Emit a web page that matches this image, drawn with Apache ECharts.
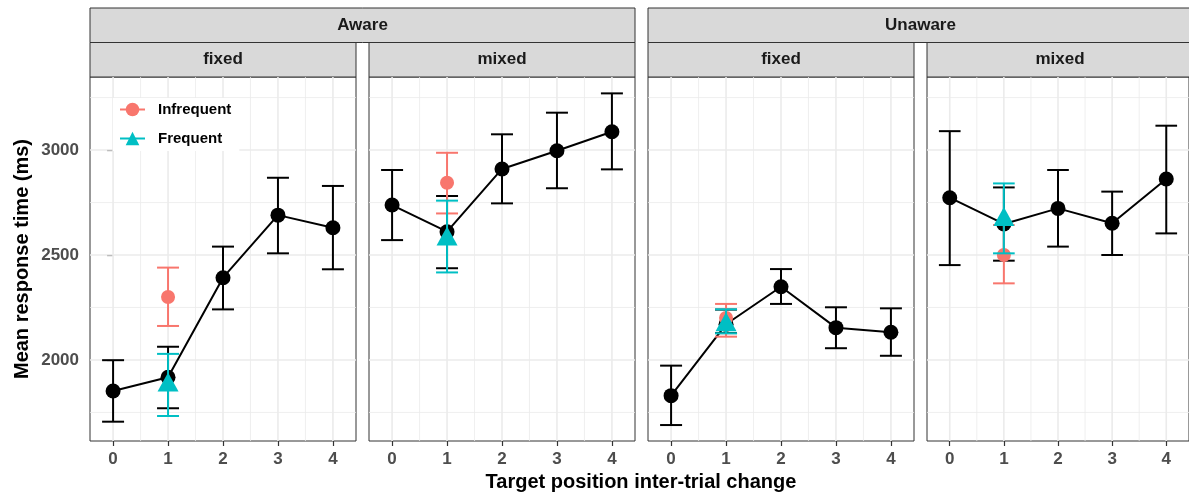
<!DOCTYPE html>
<html>
<head>
<meta charset="utf-8">
<script src="https://cdn.jsdelivr.net/npm/echarts@6/dist/echarts.min.js"></script>
<style>
  html, body { margin: 0; padding: 0; background: #fff; }
  #main { width: 1189px; height: 493px; }
</style>
</head>
<body>
<div id="main"></div>
<script>
// x positions (target position inter-trial change)
const xTicks = [0, 1, 2, 3, 4];
const xMinor = [0.5, 1.5, 2.5, 3.5];
const yTicks = [2000, 2500, 3000];
const yMinor = [1750, 2250, 2750, 3250];

// facets: Aware fixed, Aware mixed, Unaware fixed, Unaware mixed
const groupLabels = ["Aware", "Unaware"];
const condLabels = ["fixed", "mixed", "fixed", "mixed"];

// overall means with error bars (black)
const meanAll = [
  [1852, 1918, 2392, 2690, 2630],
  [2738, 2611, 2910, 2997, 3087],
  [1830, 2170, 2349, 2154, 2132],
  [2773, 2648, 2722, 2651, 2862]
];
const lowAll = [
  [1706, 1770, 2241, 2508, 2432],
  [2571, 2437, 2746, 2818, 2908],
  [1690, 2128, 2267, 2056, 2020],
  [2452, 2473, 2540, 2500, 2603]
];
const highAll = [
  [1999, 2063, 2540, 2868, 2829],
  [2905, 2781, 3075, 3178, 3270],
  [1973, 2240, 2433, 2251, 2246],
  [3090, 2822, 2905, 2802, 3116]
];

// change type at x = 1
const infreqX = 1;
const infreqMean = [2300, 2844, 2200, 2500];
const infreqLow = [2162, 2698, 2111, 2365];
const infreqHigh = [2440, 2987, 2267, 2643];
const freqMean = [1895, 2590, 2182, 2683];
const freqLow = [1733, 2417, 2127, 2508];
const freqHigh = [2029, 2759, 2241, 2841];

const RED = "#F8766D";
const TEAL = "#00BFC4";
const FONT = "'Liberation Sans', Arial, sans-serif";

// panel layout
const PLEFT = 90, PSTEP = 279, PW = 266;
const PTOP = 77, PH = 364;
const STRIP1 = 8, STRIP2 = 42.5;

const chart = echarts.init(document.getElementById("main"));

// error bar drawn through the axis scales
const errRender = (color) => (params, api) => {
  const x = api.value(0);
  const top = api.coord([x, api.value(2)]);
  const bot = api.coord([x, api.value(1)]);
  const half = api.size([0.4, 0])[0] / 2;
  const st = { stroke: color, lineWidth: 2 };
  return {
    type: "group",
    children: [
      { type: "line", shape: { x1: top[0], y1: top[1], x2: bot[0], y2: bot[1] }, style: st },
      { type: "line", shape: { x1: top[0] - half, y1: top[1], x2: top[0] + half, y2: top[1] }, style: st },
      { type: "line", shape: { x1: bot[0] - half, y1: bot[1], x2: bot[0] + half, y2: bot[1] }, style: st }
    ]
  };
};

const gridLineRender = (vertical, width) => (params, api) => {
  const cs = params.coordSys;
  if (vertical) {
    const p = api.coord([api.value(0), 2000]);
    return { type: "line", silent: true,
      shape: { x1: p[0], y1: cs.y, x2: p[0], y2: cs.y + cs.height },
      style: { stroke: "#EBEBEB", lineWidth: width } };
  }
  const p = api.coord([0, api.value(1)]);
  return { type: "line", silent: true,
    shape: { x1: cs.x, y1: p[1], x2: cs.x + cs.width, y2: p[1] },
    style: { stroke: "#EBEBEB", lineWidth: width } };
};

const grids = [], xAxes = [], yAxes = [], series = [], graphics = [];

for (let i = 0; i < 4; i++) {
  const left = PLEFT + i * PSTEP;
  grids.push({ left: left, top: PTOP, width: PW, height: PH, show: true,
    borderColor: "#333333", borderWidth: 1, backgroundColor: "#fff" });
  xAxes.push({
    type: "value", gridIndex: i, min: -0.42, max: 4.42,
    axisLine: { show: false },
    splitLine: { show: false },
    axisTick: { show: true, customValues: xTicks, length: 5, lineStyle: { color: "#333333", width: 1.2 } },
    axisLabel: { customValues: xTicks, color: "#4D4D4D", fontWeight: "bold", fontSize: 17, fontFamily: FONT, margin: 10 }
  });
  yAxes.push({
    type: "value", gridIndex: i, min: 1614, max: 3348,
    axisLine: { show: false },
    splitLine: { show: false },
    axisTick: { show: i === 0, customValues: yTicks, length: 6, lineStyle: { color: "#333333", width: 1.2 } },
    axisLabel: { show: i === 0, customValues: yTicks, formatter: (v) => String(v),
      color: "#4D4D4D", fontWeight: "bold", fontSize: 17, fontFamily: FONT, margin: 11 }
  });

  const ax = { xAxisIndex: i, yAxisIndex: i };
  series.push(Object.assign({ type: "custom", silent: true, z: 1, renderItem: gridLineRender(true, 0.8),
    data: xMinor.map(v => [v, 2000]) }, ax));
  series.push(Object.assign({ type: "custom", silent: true, z: 1, renderItem: gridLineRender(false, 0.8),
    data: yMinor.map(v => [0, v]) }, ax));
  series.push(Object.assign({ type: "custom", silent: true, z: 1, renderItem: gridLineRender(true, 1.6),
    data: xTicks.map(v => [v, 2000]) }, ax));
  series.push(Object.assign({ type: "custom", silent: true, z: 1, renderItem: gridLineRender(false, 1.6),
    data: yTicks.map(v => [0, v]) }, ax));

  // overall
  series.push(Object.assign({ type: "custom", name: "allErr", z: 3, renderItem: errRender("#000"),
    encode: { x: 0, y: [1, 2] },
    data: xTicks.map((x, k) => [x, lowAll[i][k], highAll[i][k]]) }, ax));
  series.push(Object.assign({ type: "line", name: "All", z: 4,
    data: xTicks.map((x, k) => [x, meanAll[i][k]]),
    symbol: "circle", symbolSize: 15, itemStyle: { color: "#000" },
    lineStyle: { color: "#000", width: 2 } }, ax));

  // infrequent
  series.push(Object.assign({ type: "custom", name: "infErr", z: 5, renderItem: errRender(RED),
    encode: { x: 0, y: [1, 2] },
    data: [[infreqX, infreqLow[i], infreqHigh[i]]] }, ax));
  series.push(Object.assign({ type: "line", name: "Infrequent", z: 6,
    data: [[infreqX, infreqMean[i]]],
    symbol: "circle", symbolSize: 14, itemStyle: { color: RED },
    lineStyle: { color: RED, width: 2 } }, ax));

  // frequent
  series.push(Object.assign({ type: "custom", name: "frqErr", z: 7, renderItem: errRender(TEAL),
    encode: { x: 0, y: [1, 2] },
    data: [[infreqX, freqLow[i], freqHigh[i]]] }, ax));
  series.push(Object.assign({ type: "line", name: "Frequent", z: 8,
    data: [[infreqX, freqMean[i]]],
    symbol: "triangle", symbolSize: [21, 19], itemStyle: { color: TEAL },
    lineStyle: { color: TEAL, width: 2 } }, ax));

  // condition strip
  graphics.push({ type: "rect", shape: { x: left, y: STRIP2, width: PW, height: PTOP - STRIP2 },
    style: { fill: "#D9D9D9", stroke: "#333333", lineWidth: 1 } });
  graphics.push({ type: "text", x: left + PW / 2, y: (STRIP2 + PTOP) / 2,
    style: { text: condLabels[i], font: "bold 17px " + FONT, fill: "#1A1A1A",
      textAlign: "center", textVerticalAlign: "middle" } });
}

// awareness strips
for (let g = 0; g < 2; g++) {
  const left = PLEFT + g * 2 * PSTEP;
  const w = PSTEP + PW;
  graphics.push({ type: "rect", shape: { x: left, y: STRIP1, width: w, height: STRIP2 - STRIP1 },
    style: { fill: "#D9D9D9", stroke: "#333333", lineWidth: 1 } });
  graphics.push({ type: "text", x: left + w / 2, y: (STRIP1 + STRIP2) / 2,
    style: { text: groupLabels[g], font: "bold 17px " + FONT, fill: "#1A1A1A",
      textAlign: "center", textVerticalAlign: "middle" } });
}

// axis titles
graphics.push({ type: "text", x: 641, y: 482,
  style: { text: "Target position inter-trial change", font: "bold 20px " + FONT, fill: "#000",
    textAlign: "center", textVerticalAlign: "middle" } });
graphics.push({ type: "text", x: 22, y: 259, rotation: Math.PI / 2,
  style: { text: "Mean response time (ms)", font: "bold 20px " + FONT, fill: "#000",
    textAlign: "center", textVerticalAlign: "middle" } });

const option = {
  animation: false,
  backgroundColor: "#fff",
  grid: grids,
  xAxis: xAxes,
  yAxis: yAxes,
  legend: {
    data: ["Infrequent", "Frequent"],
    orient: "vertical",
    left: 113, top: 98,
    padding: [4, 8, 5, 6],
    itemWidth: 25, itemHeight: 17, itemGap: 14,
    backgroundColor: "#fff",
    selectedMode: false,
    textStyle: { fontFamily: FONT, fontWeight: "bold", fontSize: 15, color: "#000", padding: [0, 0, 0, 8] }
  },
  series: series,
  graphic: graphics
};

chart.setOption(option);
</script>
</body>
</html>
